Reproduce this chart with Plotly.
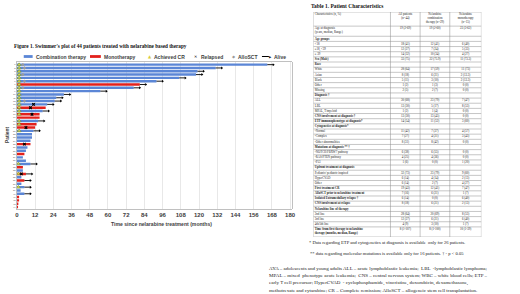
import plotly.graph_objects as go

W, H = 520, 294


def px(x):
    return x / W


def py(y):
    return 1 - y / H


# ---------------- swimmer plot data (top -> bottom) ----------------
patients = ["1", "2", "3", "4", "5", "6", "7", "8", "9", "10",
            "11", "12", "13", "14", "15", "16", "17", "18", "19", "20",
            "21", "22", "23", "24", "25", "26", "27", "28", "29", "30",
            "31", "32", "33", "34", "35", "36", "37", "38", "39", "40",
            "41", "42", "43", "44"]
therapy = ["C", "C", "C", "C", "C", "C", "M", "C", "C", "C",
           "C", "C", "C", "M", "C", "M", "M", "C", "M", "M",
           "C", "C", "C", "C", "M", "C", "C", "M", "C", "C",
           "C", "M", "C", "M", "C", "M", "C", "C", "C", "C",
           "M", "M", "M", "M"]
months = [165, 131, 119, 118, 107, 92, 81, 77, 55, 31,
          26, 25, 20, 19, 17, 15, 15, 14, 13, 12,
          11, 10, 10, 9, 9, 7, 6, 5, 4, 6,
          9, 4, 4, 6, 3, 5, 3, 5, 2.5, 5,
          1.5, 1.5, 1, 0.8]
alive = [1, 1, 1, 1, 1, 1, 1, 1, 1, 1,
         1, 1, 1, 0, 1, 0, 0, 1, 0, 0,
         1, 0, 0, 0, 0, 0, 0, 0, 0, 0,
         1, 0, 0, 1, 0, 1, 0, 1, 0, 1,
         0, 0, 0, 0]
cr_month = [1.5, 1.5, 1.5, 1.5, 1.5, 1.5, 1.5, 1.5, 1.5, 1.5,
            1.5, 1.5, 1.5, 1.5, 1.5, 1.5, None, 1.5, 1.5, None,
            1.5, None, None, None, None, None, None, None, None, None,
            1, None, None, 1, None, None, None, 1, None, None,
            None, None, None, None]
relapse_month = [None, None, None, None, None, None, None, None, None, None,
                 None, None, 11, 9, None, 10, None, None, None, 6,
                 None, None, None, None, 5, None, None, None, None, None,
                 None, None, None, 3, None, None, None, None, None, None,
                 None, None, None, None]
sct_month = [4, 5, None, 4, None, 5, None, 4, None, None,
             None, 5, None, None, None, None, None, None, None, None,
             None, None, None, None, None, None, None, None, None, None,
             None, None, None, None, None, None, None, None, None, None,
             None, None, None, None]
x_ticks = [0, 12, 24, 36, 48, 60, 72, 84, 96, 108, 120, 132, 144, 156, 168, 180]

# ---------------- table data ----------------
table_header = ["Characteristics (n, %)", "All patients<br>(n=44)",
                "Nelarabine<br>combination<br>therapy (n=29)",
                "Nelarabine<br>monotherapy<br>(n=15)"]
table_char = ["Age at diagnosis<br>(years, median, Range)", "Age groups", "<18", "≥18, <39", "≥ 39",
              "Sex (Male)", "Race", "White", "Asian", "Black", "Other", "Missing",
              "Diagnosis †", "ALL", "LBL", "MPAL, T/myeloid",
              "CNS involvement at diagnosis †", "ETP immunophenotype at diagnosis*",
              "Cytogenetics at diagnosis*", "-Normal", "-Complex", "-Other abnormalities",
              "Mutations at diagnosis ** †", "-NOTCH/FBXW7 pathway", "-RAS/PTEN pathway", "-P53",
              "Upfront treatment at diagnosis", "Pediatric/ pediatric inspired", "HyperCVAD", "Other",
              "First treatment CR", "AlloSCT prior to nelarabine treatment",
              "Isolated Extramedullary relapse †", "CNS involvement at relapse",
              "Nelarabine line of therapy", "2nd line", "3rd line", "4th/5th line",
              "Time from first therapy to nelarabine<br>therapy (months, median, Range)"]
table_bold = [0, 1, 0, 0, 0,
              1, 1, 0, 0, 0, 0, 0,
              1, 0, 0, 0,
              1, 1,
              1, 0, 0, 0,
              1, 0, 0, 0,
              1, 0, 0, 0,
              1, 1,
              1, 1,
              1, 0, 0, 0,
              1]
table_all = ["19 (2-69)", "", "18 (41)", "12 (27)", "14 (32)",
             "33 (75)", "", "28 (64)", "8 (18)", "5 (11)", "1 (2)", "2 (5)",
             "", "30 (68)", "13 (30)", "1 (2)",
             "13 (30)", "14 (54)",
             "", "11 (42)", "7 (27)", "8 (31)",
             "", "6 (38)", "4 (25)", "1 (6)",
             "", "32 (73)", "6 (14)", "6 (14)",
             "19 (43)", "7 (16)",
             "6 (14)", "8 (18)",
             "", "28 (64)", "12 (27)", "4 (9)",
             "8 (1-107)"]
table_comb = ["19 (2-60)", "", "12 (41)", "7 (24)", "10 (34)",
              "22 (75.9)", "", "17 (59)", "6 (21)", "3 (10)", "1 (3)", "2 (7)",
              "", "23 (79)", "5 (17)", "1 (4)",
              "13 (45)", "11 (52)",
              "", "7 (37)", "4 (21)", "8 (42)",
              "", "6 (55)", "4 (36)", "0 (0)",
              "", "23 (79)", "4 (14)", "2 (7)",
              "12 (41)", "6 (21)",
              "0 (0)", "6 (21)",
              "", "20 (69)", "6 (21)", "3 (10)",
              "8 (1-100)"]
table_mono = ["23 (3-62)", "", "6 (40)", "5 (33)", "4 (27)",
              "11 (73.3)", "", "11 (73)", "2 (13.3)", "2 (13.3)", "0 (0)", "0 (0)",
              "", "7 (47)", "8 (53)", "0 (0)",
              "0 (0)", "3 (60)",
              "", "4 (57)", "3 (43)", "0 (0)",
              "", "0 (0)", "0 (0)", "1 (20)",
              "", "9 (60)", "2 (13)", "4 (27)",
              "7 (47)", "1 (7)",
              "6 (40)", "2 (13)",
              "", "8 (53)", "6 (40)", "1 (7)",
              "10 (1-39)"]

BLUE = "#5b86d6"
RED = "#e3211c"
SANS = "Liberation Sans"
SERIF = "Liberation Serif"
TXT = "#404040"

fig = go.Figure()

# bars
for code, color, name in [("C", BLUE, "Combination therapy"), ("M", RED, "Monotherapy")]:
    ys = [p for p, t in zip(patients, therapy) if t == code]
    xs = [m for m, t in zip(months, therapy) if t == code]
    fig.add_trace(go.Bar(x=xs, y=ys, orientation="h", name=name, width=0.74,
                         marker=dict(color=color, line=dict(width=0)),
                         xaxis="x", yaxis="y", showlegend=False))

# alive arrows
arrow_len = 4
ax, ay, hx, hy = [], [], [], []
for p, m, a in zip(patients, months, alive):
    if a:
        ax += [m, m + arrow_len, None]
        ay += [p, p, None]
        hx.append(m + arrow_len)
        hy.append(p)
fig.add_trace(go.Scatter(x=ax, y=ay, mode="lines", line=dict(color="black", width=0.9),
                         showlegend=False, hoverinfo="skip"))
fig.add_trace(go.Scatter(x=hx, y=hy, mode="markers", showlegend=False,
                         marker=dict(symbol="triangle-right", size=2.6, color="black")))

# CR triangles
fig.add_trace(go.Scatter(x=[c for c in cr_month if c is not None],
                         y=[p for p, c in zip(patients, cr_month) if c is not None],
                         mode="markers", showlegend=False,
                         marker=dict(symbol="triangle-up", size=3.6, color="#e2d64b",
                                     line=dict(color="#5c8a2c", width=0.5))))
# relapse
fig.add_trace(go.Scatter(x=[c for c in relapse_month if c is not None],
                         y=[p for p, c in zip(patients, relapse_month) if c is not None],
                         mode="markers", showlegend=False,
                         marker=dict(symbol="x", size=3, color="black", line=dict(width=0))))
# alloSCT
fig.add_trace(go.Scatter(x=[c for c in sct_month if c is not None],
                         y=[p for p, c in zip(patients, sct_month) if c is not None],
                         mode="markers", showlegend=False,
                         marker=dict(symbol="diamond", size=2.6, color="#9a9a9a")))

# ---------------- table via second axes ----------------
header_h = 14
row_h = [10 if "<br>" in t else 5.1 for t in table_char]
tops = []
acc = header_h
for h in row_h:
    tops.append(acc)
    acc += h
total_h = acc
col_edges = [0, 78, 108, 138, 170]
col_centers = [(col_edges[i] + col_edges[i + 1]) / 2 for i in range(4)]

# header text
fig.add_trace(go.Scatter(
    x=[1.5] + col_centers[1:], y=[0.6] * 4,
    text=table_header, mode="text",
    textposition=["bottom right", "bottom center", "bottom center", "bottom center"],
    textfont=dict(family=SERIF, size=3, color="#222"),
    xaxis="x2", yaxis="y2", showlegend=False, hoverinfo="skip"))
# first column
fig.add_trace(go.Scatter(
    x=[1.5] * len(table_char),
    y=[t + 0.45 if "<br>" in c else t + h / 2 for t, h, c in zip(tops, row_h, table_char)],
    text=[("<b>" + c + "</b>") if b else c for c, b in zip(table_char, table_bold)],
    mode="text",
    textposition=["bottom right" if "<br>" in c else "middle right" for c in table_char],
    textfont=dict(family=SERIF, size=3, color="#222"),
    xaxis="x2", yaxis="y2", showlegend=False, hoverinfo="skip"))
# value columns
for ci, vals in zip([1, 2, 3], [table_all, table_comb, table_mono]):
    fig.add_trace(go.Scatter(
        x=[col_centers[ci]] * len(vals),
        y=[t + 2.55 for t in tops],
        text=vals, mode="text", textposition="middle center",
        textfont=dict(family=SERIF, size=3, color="#222"),
        xaxis="x2", yaxis="y2", showlegend=False, hoverinfo="skip"))

shapes = []
line_c = "#8c8c8c"
for yb in [0] + tops + [total_h]:
    shapes.append(dict(type="line", xref="x2", yref="y2", x0=0, x1=170, y0=yb, y1=yb,
                       line=dict(color=line_c, width=0.5)))
for xe in col_edges:
    shapes.append(dict(type="line", xref="x2", yref="y2", x0=xe, x1=xe, y0=0, y1=total_h,
                       line=dict(color=line_c, width=0.5)))

# ---------------- manual legend ----------------
leg_y = 56.5
shapes.append(dict(type="rect", xref="paper", yref="paper", x0=px(22), x1=px(31),
                   y0=py(leg_y + 1.4), y1=py(leg_y - 1.4), fillcolor=BLUE, line=dict(width=0)))
shapes.append(dict(type="rect", xref="paper", yref="paper", x0=px(89), x1=px(100),
                   y0=py(leg_y + 1.4), y1=py(leg_y - 1.4), fillcolor=RED, line=dict(width=0)))
shapes.append(dict(type="line", xref="paper", yref="paper", x0=px(263), x1=px(270),
                   y0=py(leg_y), y1=py(leg_y), line=dict(color="black", width=1.0)))

annotations = []


def ann(x, y, text, size, family=SANS, color=TXT, xanchor="left", textangle=0):
    annotations.append(dict(x=px(x), y=py(y), xref="paper", yref="paper", text=text,
                            showarrow=False, xanchor=xanchor, yanchor="middle",
                            textangle=textangle,
                            font=dict(family=family, size=size, color=color)))


ann(10, 46, "<b>Figure 1. Swimmer's plot of 44 patients treated with nelarabine based therapy</b>",
    5.2, SERIF, "#111")
ann(32, leg_y, "<b>Combination therapy</b>", 5)
ann(101.5, leg_y, "<b>Monotherapy</b>", 5)
ann(145.5, leg_y, "▲", 4.2, "DejaVu Sans", "#d8cb3c")
ann(152, leg_y, "<b>Achieved CR</b>", 5)
ann(192.5, leg_y, "✕", 4, "DejaVu Sans", "#111")
ann(199, leg_y, "<b>Relapsed</b>", 5)
ann(230.5, leg_y, "◆", 4, "DejaVu Sans", "#9a9a9a")
ann(237, leg_y, "<b>AlloSCT</b>", 5)
ann(268.5, leg_y, "▶", 3, "DejaVu Sans", "#111")
ann(273, leg_y, "<b>Alive</b>", 5)
ann(5, 135, "<b>Patient</b>", 4.8, xanchor="center", textangle=-90)
ann(161.7, 223.5, "<b>Time since nelarabine treatment (months)</b>", 5.1, xanchor="center")

ann(311, 6, "<b>Table 1. Patient Characteristics</b>", 5.4, SERIF, "#111")
ann(389, 242, "* Data regarding ETP and cytogenetics at diagnosis is available  only for 26 patients.",
    4.6, SERIF, "#222", xanchor="center")
ann(389, 253, "** data regarding molecular mutations is available only for 16 patients. † - p < 0.05",
    4.6, SERIF, "#222", xanchor="center")
para = ["AYA – adolescents and young adults ALL – acute lymphoblastic leukemia;  LBL  -lymphoblastic lymphoma;",
        "MPAL – mixed  phenotype acute leukemia;  CNS – central nervous system; WBC – white blood cells; ETP –",
        "early T cell precursor; HyperCVAD  - cyclophosphamide, vincristine, doxorubicin, dexamethasone,",
        "methotrexate and cytarabine; CR – Complete remission; AlloSCT – allogeneic stem cell transplantation."]
for i, line in enumerate(para):
    ann(268, 268.5 + i * 7.3, line, 5, SERIF, "#222")

fig.update_layout(
    width=W, height=H, margin=dict(l=0, r=0, t=0, b=0),
    paper_bgcolor="white", plot_bgcolor="white",
    barmode="overlay", showlegend=False, hovermode=False,
    xaxis=dict(domain=[px(15), px(293)], range=[0, 181], tickvals=x_ticks,
               showgrid=True, gridcolor="#d9d9d9", gridwidth=0.6, zeroline=False,
               showline=True, linecolor="#b0b0b0", linewidth=0.8, mirror=True, ticks="",
               tickfont=dict(family=SANS, size=6, color=TXT, weight="bold"),
               anchor="y"),
    yaxis=dict(domain=[py(209), py(62)], type="category", categoryorder="array",
               categoryarray=patients, range=[len(patients) - 0.4, -0.8],
               tickmode="array", tickvals=patients, ticktext=patients,
               showgrid=False, zeroline=False, showline=True, linecolor="#b0b0b0",
               linewidth=0.8, mirror=True, ticks="",
               tickfont=dict(family=SANS, size=2.3, color="#555"), anchor="x"),
    xaxis2=dict(domain=[px(315), px(485)], range=[0, 170], visible=False, anchor="y2"),
    yaxis2=dict(domain=[py(237), py(12)], range=[total_h, 0], visible=False, anchor="x2"),
    shapes=shapes, annotations=annotations,
)

fig.write_html("out.html", config={"displayModeBar": False, "staticPlot": True},
               post_script="document.body.style.margin='0px';document.body.style.padding='0px';")
